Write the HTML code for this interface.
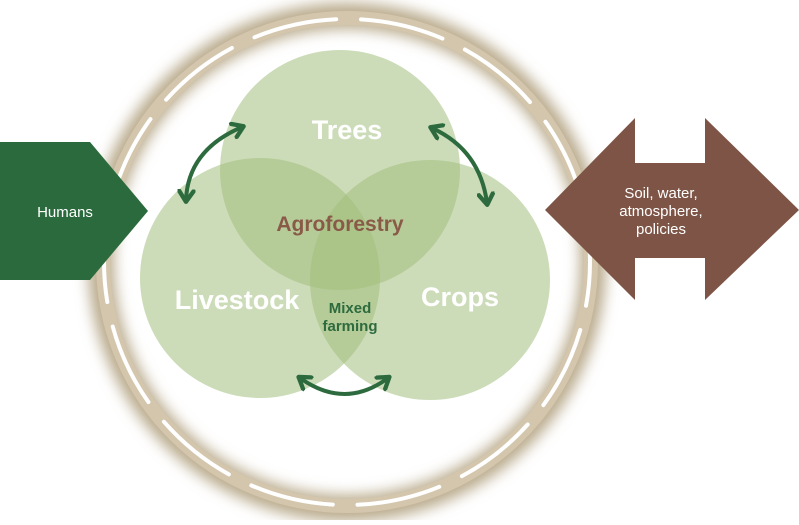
<!DOCTYPE html>
<html><head><style>
body{margin:0;width:799px;height:520px;background:#fff;overflow:hidden;font-family:"Liberation Sans",sans-serif}
</style></head><body>
<svg width="799" height="520" viewBox="0 0 799 520">
<defs>
<filter id="b" x="-20%" y="-20%" width="140%" height="140%"><feGaussianBlur stdDeviation="7"/></filter>
<marker id="ah" viewBox="0 0 10 10" refX="6" refY="5" markerWidth="4.5" markerHeight="4.5" orient="auto-start-reverse"><path d="M1,1 L7,5 L1,9" fill="none" stroke="#2d6b3f" stroke-width="2.4" stroke-linecap="round" stroke-linejoin="round"/></marker>
</defs>
<circle cx="347" cy="262" r="246" fill="none" stroke="#b9aa8c" stroke-width="26" filter="url(#b)"/>
<circle cx="347" cy="262" r="244" fill="none" stroke="#d3c6ad" stroke-width="14"/>
<circle cx="347" cy="262" r="243" fill="none" stroke="#fff" stroke-width="4" stroke-linecap="round" stroke-dasharray="84 25" stroke-dashoffset="40"/>
<path d="M0,142 H90 L148,211 L90,280 H0 Z" fill="#2a6a3c"/>
<text x="65" y="217" font-size="15" fill="#fff" text-anchor="middle">Humans</text>
<path d="M545,210 L635,118 V163 H705 V118 L799,210 L705,300 V258 H635 V300 Z" fill="#7d5445"/>
<text x="661" y="198" font-size="15" fill="#fff" text-anchor="middle">Soil, water,</text>
<text x="661" y="216" font-size="15" fill="#fff" text-anchor="middle">atmosphere,</text>
<text x="661" y="234" font-size="15" fill="#fff" text-anchor="middle">policies</text>
<g fill="#a3c07e" fill-opacity="0.55">
<circle cx="340" cy="170" r="120"/>
<circle cx="260" cy="278" r="120"/>
<circle cx="430" cy="280" r="120"/>
</g>
<g fill="none" stroke="#2d6b3f" stroke-width="4" marker-start="url(#ah)" marker-end="url(#ah)">
<path d="M186,200 Q188,150 242,127"/>
<path d="M432,128 Q480,150 487,203"/>
<path d="M300,378 Q345,410 388,378"/>
</g>
<g font-weight="bold" text-anchor="middle">
<text x="347" y="139" font-size="27" fill="#fff">Trees</text>
<text x="340" y="231" font-size="21" fill="#8a5a48">Agroforestry</text>
<text x="237" y="309" font-size="27" fill="#fff">Livestock</text>
<text x="460" y="306" font-size="27" fill="#fff">Crops</text>
<text x="350" y="313" font-size="15" fill="#2d6b3f">Mixed</text>
<text x="350" y="331" font-size="15" fill="#2d6b3f">farming</text>
</g>
</svg>
</body></html>
